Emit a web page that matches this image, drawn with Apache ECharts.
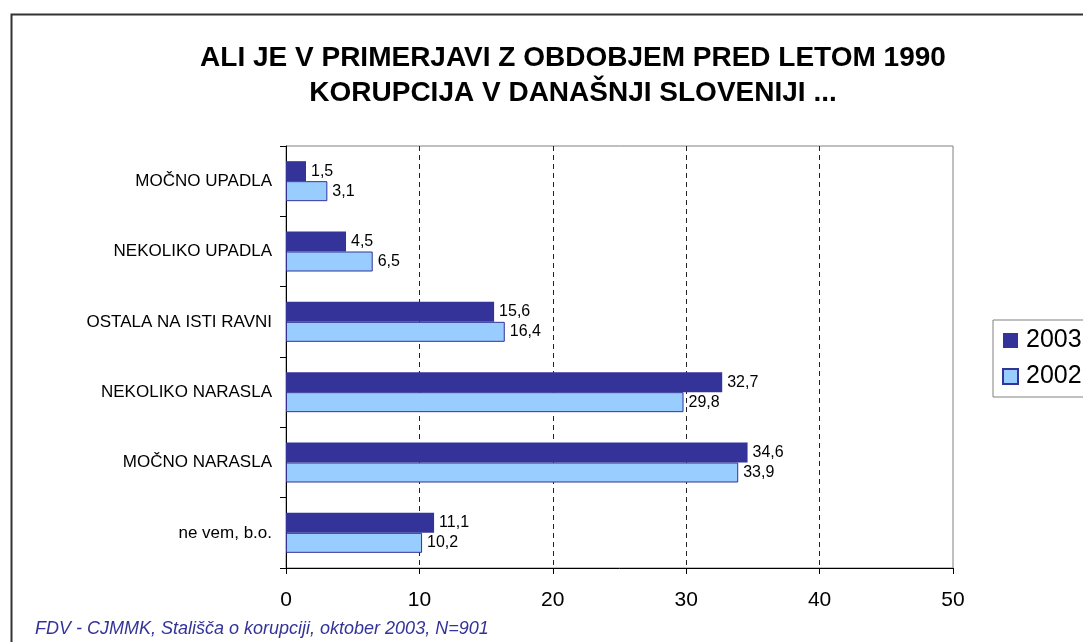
<!DOCTYPE html>
<html>
<head>
<meta charset="utf-8">
<script src="https://cdn.jsdelivr.net/npm/echarts@6/dist/echarts.min.js"></script>
<style>
  html, body { margin: 0; padding: 0; background: #fff; }
  #chart { width: 1083px; height: 642px; }
</style>
</head>
<body>
<div id="chart"></div>
<script>
const categories = ['MOČNO UPADLA', 'NEKOLIKO UPADLA', 'OSTALA NA ISTI RAVNI', 'NEKOLIKO NARASLA', 'MOČNO NARASLA', 'ne vem, b.o.'];
const values2003 = [1.5, 4.5, 15.6, 32.7, 34.6, 11.1];
const values2002 = [3.1, 6.5, 16.4, 29.8, 33.9, 10.2];
const xTicks = [0, 10, 20, 30, 40, 50];

const font = 'Arial, "Liberation Sans", sans-serif';
const fmt = p => String(p.value).replace('.', ',');

const myChart = echarts.init(document.getElementById('chart'));

const option = {
  backgroundColor: '#fff',
  animation: false,
  title: {
    text: 'ALI JE V PRIMERJAVI Z OBDOBJEM PRED LETOM 1990\nKORUPCIJA V DANAŠNJI SLOVENIJI ...',
    left: 568,
    top: 36,
    textAlign: 'center',
    textStyle: { fontFamily: font, fontSize: 28, fontWeight: 'bold', color: '#000', lineHeight: 35 }
  },
  legend: {
    data: ['2003', '2002'],
    orient: 'vertical',
    left: 993,
    top: 320,
    padding: [8, 40, 8, 9],
    itemGap: 11,
    itemWidth: 15,
    itemHeight: 15,
    icon: 'rect',
    borderColor: '#808080',
    borderWidth: 1,
    textStyle: { fontFamily: font, fontSize: 25, color: '#000', padding: [0, 0, 0, 3] }
  },
  grid: {
    left: 286, top: 146, right: 130, bottom: 74,
    show: true, borderColor: '#808080', borderWidth: 1
  },
  xAxis: {
    type: 'value',
    min: xTicks[0],
    max: xTicks[xTicks.length - 1],
    interval: 10,
    axisLine: { show: true, lineStyle: { color: '#000', width: 1 } },
    axisTick: { show: true, length: 6, lineStyle: { color: '#000' } },
    axisLabel: { fontFamily: font, fontSize: 21, color: '#000', margin: 22 },
    splitLine: {
      show: true, showMinLine: false, showMaxLine: false,
      lineStyle: { color: '#222', type: [5, 4], width: 1 }
    }
  },
  yAxis: {
    type: 'category',
    data: categories,
    inverse: true,
    axisLine: { show: true, lineStyle: { color: '#000', width: 1 } },
    axisTick: { show: true, length: 6, lineStyle: { color: '#000' } },
    axisLabel: { fontFamily: font, fontSize: 17, color: '#000', margin: 14 },
    splitLine: { show: false }
  },
  series: [
    {
      name: '2003',
      type: 'bar',
      data: values2003,
      barWidth: 20,
      barGap: '0%',
      itemStyle: { color: '#333399' },
      label: { show: true, position: 'right', distance: 5, formatter: fmt, fontFamily: font, fontSize: 16, color: '#000' }
    },
    {
      name: '2002',
      type: 'bar',
      data: values2002,
      barWidth: 20,
      barGap: '0%',
      itemStyle: { color: '#99CCFF', borderColor: '#333399', borderWidth: 1 },
      label: { show: true, position: 'right', distance: 5, formatter: fmt, fontFamily: font, fontSize: 16, color: '#000' }
    }
  ],
  graphic: [
    {
      type: 'rect',
      left: 9, top: 12,
      shape: { width: 1200, height: 700 },
      style: { fill: 'none', stroke: '#333', lineWidth: 2 },
      silent: true
    },
    {
      type: 'text',
      left: 35, top: 620,
      style: {
        text: 'FDV - CJMMK, Stališča o korupciji, oktober 2003, N=901',
        font: 'italic 18px Arial, "Liberation Sans", sans-serif',
        fill: '#333399'
      }
    }
  ]
};

myChart.setOption(option);

window.addEventListener('resize', () => myChart.resize());
</script>
</body>
</html>
